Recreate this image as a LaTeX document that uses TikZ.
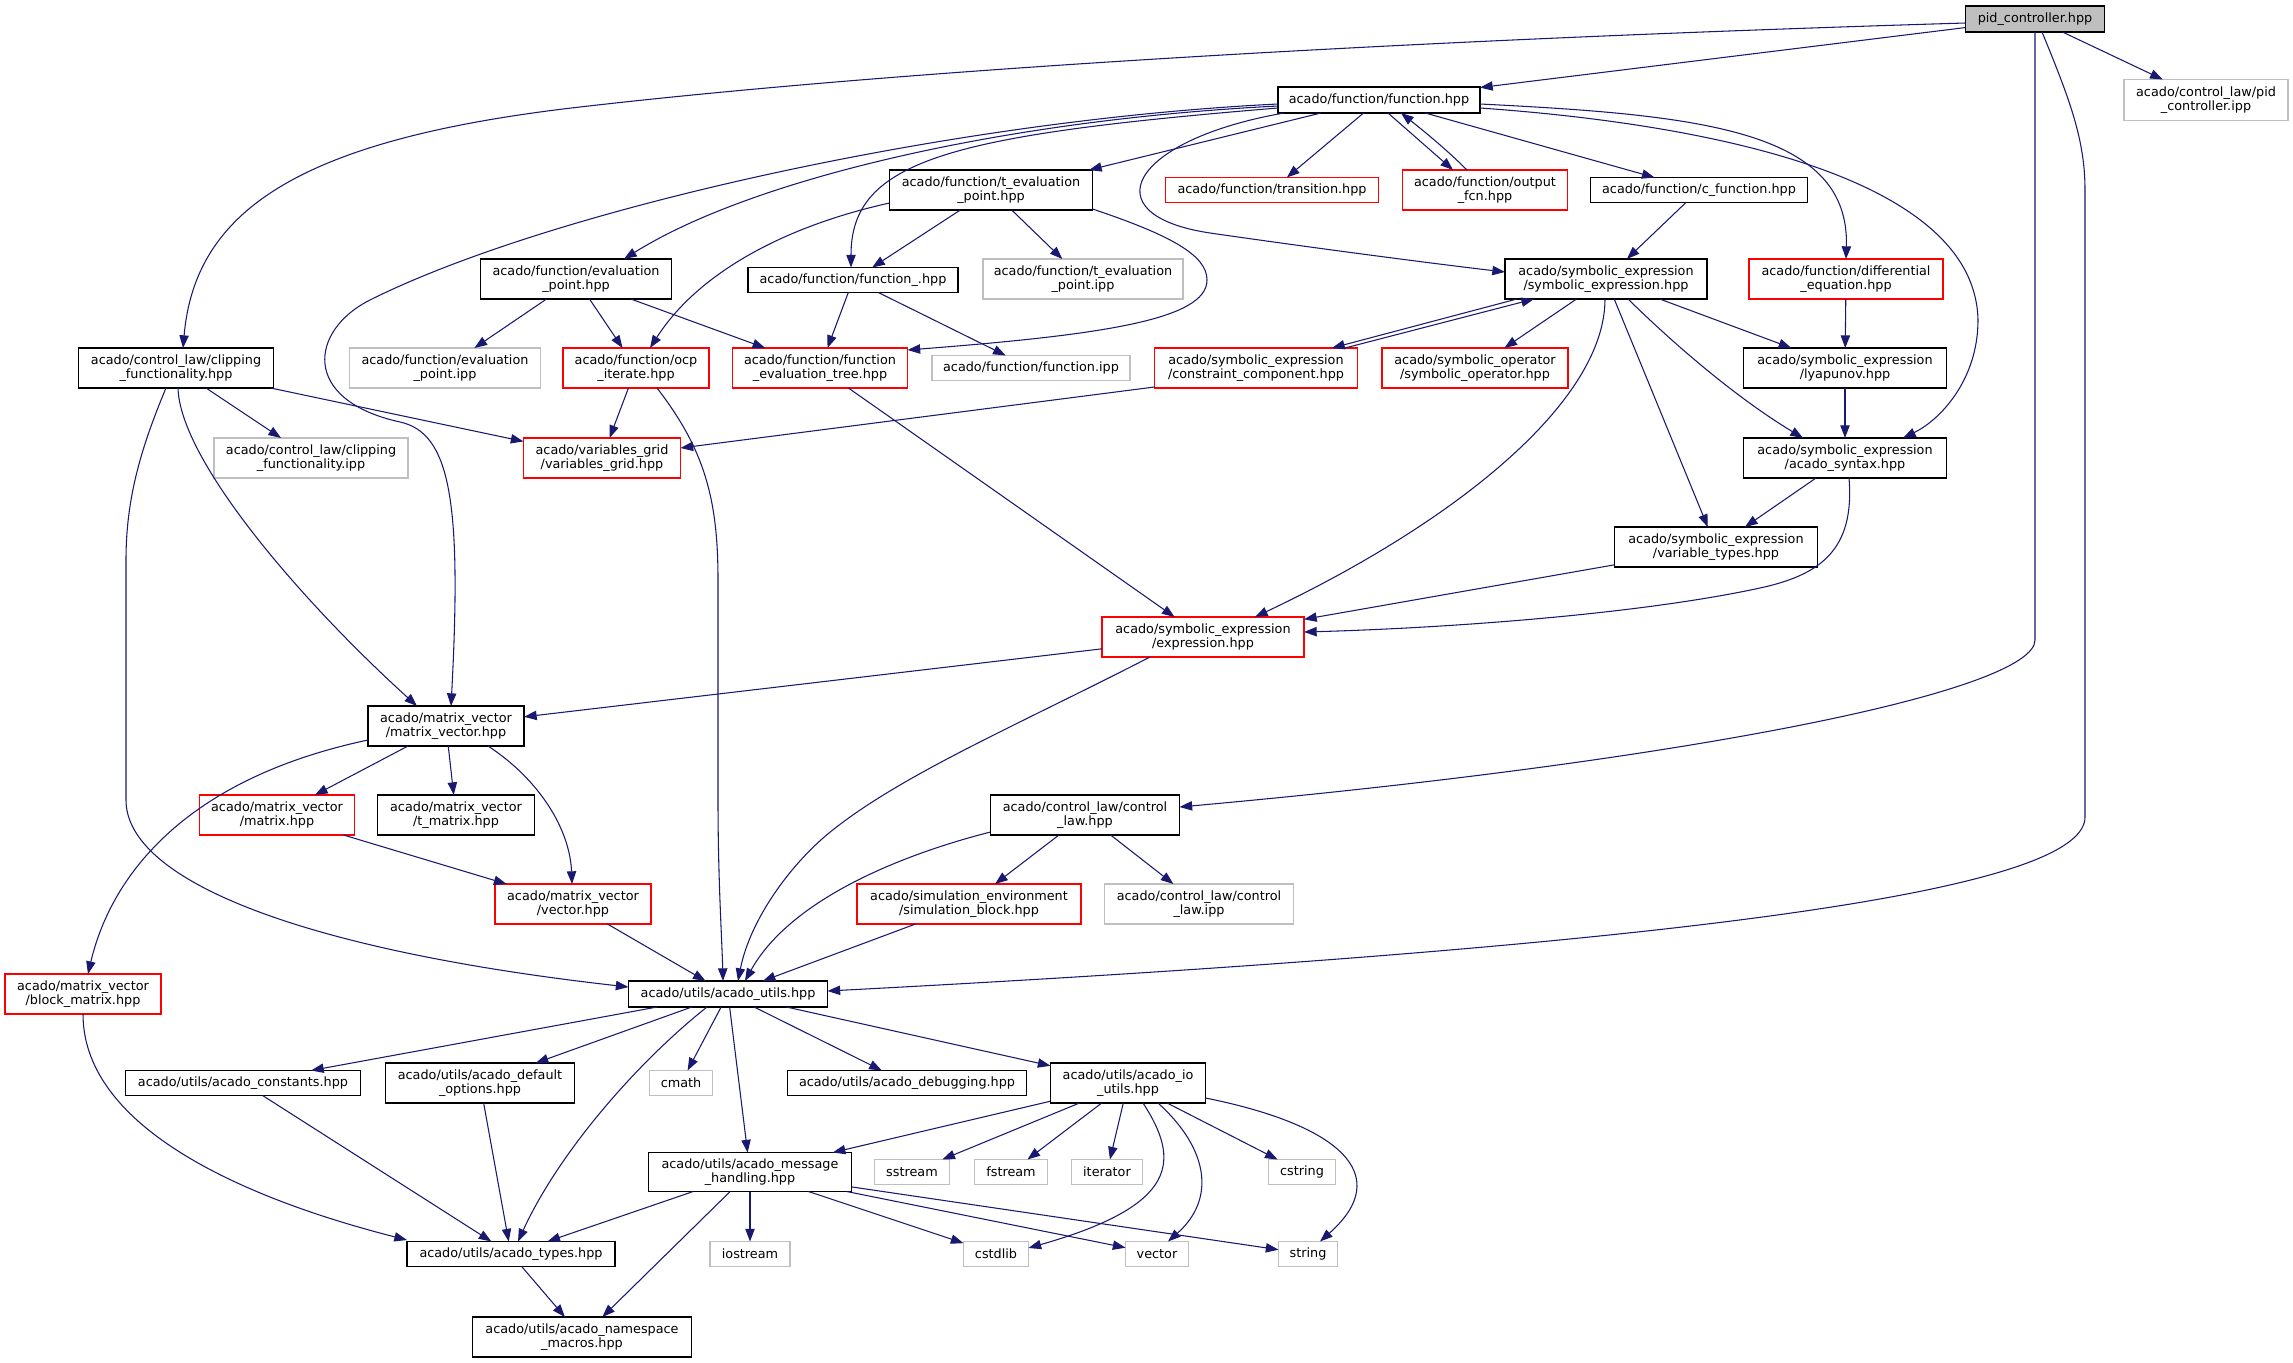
\documentclass[tikz,border=0pt]{standalone}
\usepackage{fontspec}
\setmainfont{DejaVu Sans}
\usetikzlibrary{arrows.meta,calc}
\definecolor{edgeblue}{HTML}{191970}
\definecolor{grey75}{HTML}{BFBFBF}
\begin{document}
\begin{tikzpicture}[x=0.75pt,y=-0.75pt,
  base/.style={draw,inner sep=0pt,outer sep=0pt,align=center,line width=0.8pt,
    font=\fontsize{9.6}{10.8}\selectfont},
  bk/.style={base,draw=black},
  rd/.style={base,draw=red},
  gr/.style={base,draw=grey75},
  sz/.style 2 args={minimum width=#1*0.75pt,minimum height=#2*0.75pt},
  dep/.style={draw=edgeblue,line width=0.8pt,-{Triangle[length=9.5pt,width=7pt]}}]
\useasboundingbox (0,0) rectangle (2293,1363);
% nodes
\node[bk,fill=grey75,sz={139}{26}] (pid) at (2035,19) {pid\_controller.hpp};
\node[gr,sz={164}{41}] (pidipp) at (2206,100) {acado/control\_law/pid\\\_controller.ipp};
\node[bk,sz={202}{26}] (fn) at (1379,100) {acado/function/function.hpp};
\node[rd,sz={213}{25}] (trans) at (1272,190) {acado/function/transition.hpp};
\node[rd,sz={165}{40}] (outfcn) at (1485,190) {acado/function/output\\\_fcn.hpp};
\node[bk,sz={217}{25}] (cfn) at (1699,190) {acado/function/c\_function.hpp};
\node[bk,sz={203}{40}] (tevh) at (991,190) {acado/function/t\_evaluation\\\_point.hpp};
\node[bk,sz={191}{40}] (evh) at (576,279) {acado/function/evaluation\\\_point.hpp};
\node[bk,sz={210}{25}] (fnu) at (853,280) {acado/function/function\_.hpp};
\node[gr,sz={200}{40}] (tevi) at (1083,279) {acado/function/t\_evaluation\\\_point.ipp};
\node[bk,sz={202}{40}] (symexp) at (1606,279) {acado/symbolic\_expression\\/symbolic\_expression.hpp};
\node[rd,sz={194}{40}] (diffeq) at (1846,279) {acado/function/differential\\\_equation.hpp};
\node[bk,sz={195}{40}] (clip) at (176,368) {acado/control\_law/clipping\\\_functionality.hpp};
\node[gr,sz={191}{40}] (evi) at (445,368) {acado/function/evaluation\\\_point.ipp};
\node[rd,sz={146}{40}] (ocp) at (636,368) {acado/function/ocp\\\_iterate.hpp};
\node[rd,sz={175}{40}] (fet) at (820,368) {acado/function/function\\\_evaluation\_tree.hpp};
\node[gr,sz={198}{25}] (fnipp) at (1031,368) {acado/function/function.ipp};
\node[rd,sz={203}{40}] (cons) at (1256,368) {acado/symbolic\_expression\\/constraint\_component.hpp};
\node[rd,sz={186}{40}] (symop) at (1475,368) {acado/symbolic\_operator\\/symbolic\_operator.hpp};
\node[bk,sz={203}{40}] (lyap) at (1845,368) {acado/symbolic\_expression\\/lyapunov.hpp};
\node[gr,sz={194}{40}] (clipi) at (311,458) {acado/control\_law/clipping\\\_functionality.ipp};
\node[rd,sz={157}{40}] (vgrid) at (602,458) {acado/variables\_grid\\/variables\_grid.hpp};
\node[bk,sz={203}{40}] (syntax) at (1845,458) {acado/symbolic\_expression\\/acado\_syntax.hpp};
\node[bk,sz={203}{40}] (vtypes) at (1716,547) {acado/symbolic\_expression\\/variable\_types.hpp};
\node[rd,sz={202}{40}] (expr) at (1203,637) {acado/symbolic\_expression\\/expression.hpp};
\node[bk,sz={156}{40}] (mv) at (446,726) {acado/matrix\_vector\\/matrix\_vector.hpp};
\node[rd,sz={155}{40}] (matrix) at (277,815) {acado/matrix\_vector\\/matrix.hpp};
\node[bk,sz={157}{40}] (tmatrix) at (456,815) {acado/matrix\_vector\\/t\_matrix.hpp};
\node[bk,sz={189}{40}] (claw) at (1085,815) {acado/control\_law/control\\\_law.hpp};
\node[rd,sz={156}{40}] (vector) at (573,904) {acado/matrix\_vector\\/vector.hpp};
\node[rd,sz={224}{40}] (simblk) at (969,904) {acado/simulation\_environment\\/simulation\_block.hpp};
\node[gr,sz={189}{40}] (clawi) at (1199,904) {acado/control\_law/control\\\_law.ipp};
\node[rd,sz={156}{40}] (blk) at (83,994) {acado/matrix\_vector\\/block\_matrix.hpp};
\node[bk,sz={199}{26}] (utils) at (728,994) {acado/utils/acado\_utils.hpp};
\node[bk,sz={235}{25}] (const) at (243,1083) {acado/utils/acado\_constants.hpp};
\node[bk,sz={189}{40}] (defopt) at (480,1083) {acado/utils/acado\_default\\\_options.hpp};
\node[gr,sz={63}{25}] (cmath) at (681,1083) {cmath};
\node[bk,sz={239}{25}] (debug) at (907,1083) {acado/utils/acado\_debugging.hpp};
\node[bk,sz={155}{40}] (io) at (1128,1083) {acado/utils/acado\_io\\\_utils.hpp};
\node[bk,sz={203}{39}] (msg) at (750,1172) {acado/utils/acado\_message\\\_handling.hpp};
\node[gr,sz={75}{25}] (sstream) at (912,1172) {sstream};
\node[gr,sz={73}{25}] (fstream) at (1011,1172) {fstream};
\node[gr,sz={71}{25}] (iterator) at (1107,1172) {iterator};
\node[gr,sz={67}{25}] (cstring) at (1302,1172) {cstring};
\node[bk,sz={208}{25}] (types) at (511,1254) {acado/utils/acado\_types.hpp};
\node[gr,sz={80}{25}] (iostream) at (750,1254) {iostream};
\node[gr,sz={65}{25}] (cstdlib) at (996,1254) {cstdlib};
\node[gr,sz={63}{25}] (vecstd) at (1157,1254) {vector};
\node[gr,sz={59}{25}] (string) at (1308,1254) {string};
\node[bk,sz={219}{40}] (ns) at (582,1337) {acado/utils/acado\_namespace\\\_macros.hpp};
% edges from pid_controller
\draw[dep] (pid) -- (fn);
\draw[dep] ($(pid.west)+(0,4)$) .. controls (1400,40) and (900,70) .. (580,107) .. controls (300,139) and (195,210) .. ($(clip.north)+(7,0)$);
\draw[dep] (pid) -- (pidipp);
\draw[dep] (pid.south) -- (2035,640) .. controls (2035,690) and (1700,760) .. ($(claw.east)+(0,-8)$);
\draw[dep] ($(pid.south)+(7,0)$) .. controls (2070,100) and (2085,140) .. (2085,190) -- (2085,817) .. controls (2085,880) and (1800,940) .. ($(utils.east)+(0,-3)$);
% edges from function.hpp
\draw[dep] (fn) -- (trans);
\draw[dep] ($(fn.south)+(9,0)$) -- ($(outfcn.north)+(-32,0)$);
\draw[dep] ($(outfcn.north)+(-18,0)$) .. controls (1445,148) and (1420,128) .. ($(fn.south)+(22,0)$);
\draw[dep] (fn) -- (cfn);
\draw[dep] ($(fn.east)+(0,4)$) .. controls (1700,115) and (1850,130) .. (diffeq.north);
\draw[dep] ($(fn.east)+(0,8)$) .. controls (1720,125) and (1975,180) .. (1978,320) .. controls (1978,380) and (1940,420) .. ($(syntax.north)+(58,0)$);
\draw[dep] ($(fn.south)+(-95,0)$) .. controls (1130,140) and (1090,215) .. (1210,233) .. controls (1300,246) and (1420,262) .. ($(symexp.west)+(0,-7)$);
\draw[dep] ($(fn.south)+(-58,0)$) -- ($(tevh.north)+(98,0)$);
\draw[dep] ($(fn.west)+(0,8)$) .. controls (950,135) and (851,160) .. ($(fnu.north)+(-2,0)$);
\draw[dep] ($(fn.west)+(0,6)$) .. controls (1000,120) and (750,180) .. ($(evh.north)+(48,0)$);
\draw[dep] ($(fn.west)+(0,4)$) .. controls (950,120) and (550,210) .. (370,300) .. controls (310,330) and (300,400) .. (400,422) .. controls (450,433) and (462,500) .. ($(mv.north)+(5,0)$);
% t_evaluation_point
\draw[dep] ($(tevh.west)+(0,13)$) .. controls (790,225) and (700,270) .. ($(ocp.north)+(14,0)$);
\draw[dep] (tevh) -- (fnu);
\draw[dep] (tevh) -- (tevi);
\draw[dep] ($(tevh.east)+(0,19)$) .. controls (1170,235) and (1207,255) .. (1207,280) .. controls (1207,320) and (1100,335) .. ($(fet.east)+(0,-18)$);
% evaluation_point, function_
\draw[dep] (evh) -- (evi);
\draw[dep] (evh) -- (ocp);
\draw[dep] (evh) -- (fet);
\draw[dep] (fnu) -- (fet);
\draw[dep] (fnu) -- (fnipp);
% ocp_iterate, evaluation tree
\draw[dep] (ocp) -- (vgrid);
\draw[dep] ($(ocp.south)+(21,0)$) .. controls (705,450) and (718,500) .. (718,580) -- (718,800) .. controls (718,880) and (722,940) .. ($(utils.north)+(-5,0)$);
\draw[dep] (fet) -- (expr);
% clipping functionality
\draw[dep] (clip) -- (clipi);
\draw[dep] (clip) -- (vgrid);
\draw[dep] ($(clip.south)+(2,0)$) .. controls (180,460) and (300,600) .. ($(mv.north)+(-29,0)$);
\draw[dep] ($(clip.south)+(-10,0)$) .. controls (140,450) and (126,500) .. (126,560) -- (126,800) .. controls (126,880) and (300,950) .. ($(utils.west)+(0,-7)$);
% symbolic expression
\draw[dep] (cfn) -- (symexp);
\draw[dep] ($(symexp.south)+(-89,0)$) -- ($(cons.north)+(76,0)$);
\draw[dep] ($(cons.north)+(89,0)$) -- ($(symexp.south)+(-72,0)$);
\draw[dep] (symexp) -- (symop);
\draw[dep] (symexp) -- (lyap);
\draw[dep] ($(symexp.south)+(22,0)$) .. controls (1680,350) and (1740,400) .. ($(syntax.north)+(-42,0)$);
\draw[dep] (symexp) -- (vtypes);
\draw[dep] ($(symexp.south)+(-1,0)$) .. controls (1605,400) and (1460,520) .. ($(expr.north)+(52,0)$);
\draw[dep] (diffeq) -- (lyap);
\draw[dep] (lyap) -- (syntax);
\draw[dep] (syntax) -- (vtypes);
\draw[dep] ($(syntax.south)+(4,0)$) .. controls (1855,550) and (1820,575) .. (1760,588) .. controls (1640,614) and (1450,628) .. ($(expr.east)+(0,-5)$);
\draw[dep] (vtypes) -- (expr);
\draw[dep] (expr) -- (mv);
\draw[dep] ($(expr.south)+(-53,0)$) .. controls (1020,724) and (900,775) .. (829,833) .. controls (790,865) and (750,920) .. ($(utils.north)+(10,0)$);
\draw[dep] ($(cons.west)+(0,19)$) -- ($(vgrid.east)+(0,-10)$);
% matrix_vector
\draw[dep] (mv) -- (matrix);
\draw[dep] (mv) -- (tmatrix);
\draw[dep] ($(mv.south)+(42,0)$) .. controls (540,780) and (570,830) .. ($(vector.north)+(-1,0)$);
\draw[dep] ($(mv.west)+(0,14)$) .. controls (180,780) and (110,880) .. ($(blk.north)+(5,0)$);
\draw[dep] (matrix) -- (vector);
\draw[dep] (vector) -- (utils);
% control law
\draw[dep] (claw) -- (simblk);
\draw[dep] (claw) -- (clawi);
\draw[dep] ($(claw.west)+(0,17)$) .. controls (900,855) and (790,900) .. ($(utils.north)+(17,0)$);
\draw[dep] (simblk) -- (utils);
\draw[dep] (blk.south) .. controls (83,1130) and (250,1200) .. ($(types.west)+(0,-14)$);
% acado_utils
\draw[dep] (utils) -- (const);
\draw[dep] (utils) -- (defopt);
\draw[dep] ($(utils.south)+(-21,0)$) .. controls (640,1060) and (560,1150) .. ($(types.north)+(7,0)$);
\draw[dep] (utils) -- (cmath);
\draw[dep] (utils) -- (msg);
\draw[dep] (utils) -- (debug);
\draw[dep] (utils) -- (io);
\draw[dep] (const) -- (types);
\draw[dep] (defopt) -- (types);
% io utils
\draw[dep] (io) -- (msg);
\draw[dep] (io) -- (sstream);
\draw[dep] (io) -- (fstream);
\draw[dep] (io) -- (iterator);
\draw[dep] (io) -- (cstring);
\draw[dep] ($(io.south)+(15,0)$) .. controls (1180,1160) and (1180,1205) .. ($(cstdlib.east)+(0,-6)$);
\draw[dep] ($(io.south)+(30,0)$) .. controls (1210,1150) and (1215,1200) .. ($(vecstd.north)+(11,0)$);
\draw[dep] ($(io.east)+(0,15)$) .. controls (1340,1125) and (1395,1175) .. ($(string.north)+(12,0)$);
% message handling
\draw[dep] (msg) -- (types);
\draw[dep] (msg) -- (ns);
\draw[dep] (msg) -- (iostream);
\draw[dep] (msg) -- (cstdlib);
\draw[dep] (msg) -- (vecstd);
\draw[dep] (msg) -- (string);
\draw[dep] (types) -- (ns);
\end{tikzpicture}
\end{document}
